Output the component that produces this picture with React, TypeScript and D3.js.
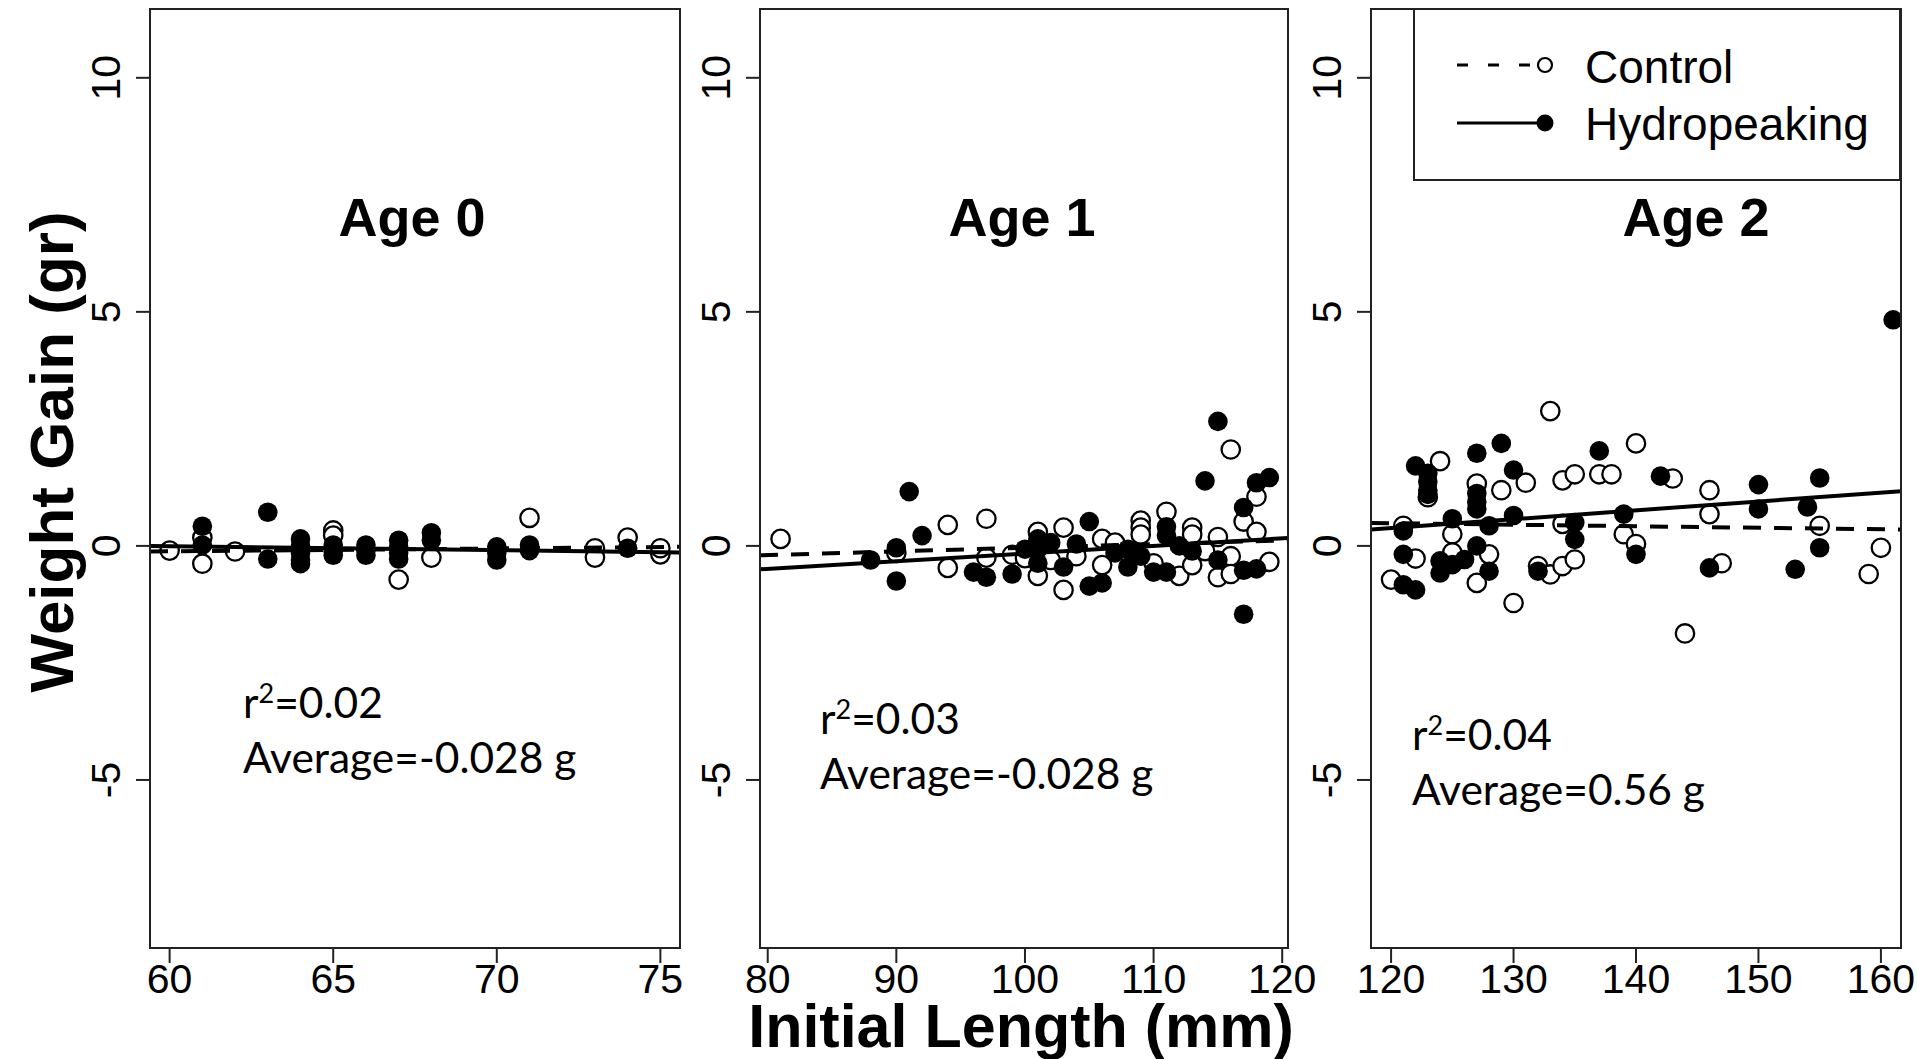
import React from 'react';
import * as d3 from 'd3';

// ---------- data ----------
const panelTitles = ['Age 0', 'Age 1', 'Age 2'];
const r2Labels = ['0.02', '0.03', '0.04'];
const avgLabels = ['-0.028 g', '-0.028 g', '0.56 g'];
const yTicks = [-5, 0, 5, 10];
const age0Ticks = [60, 65, 70, 75];
const age1Ticks = [80, 90, 100, 110, 120];
const age2Ticks = [120, 130, 140, 150, 160];
const legendLabels = ['Control', 'Hydropeaking'];

type P = [number, number];

const age0Control: P[] = [
  [60, -0.1], [61, 0.18], [61, -0.38], [62, -0.12], [65, 0.33], [65, 0.22], [67, -0.72],
  [68, -0.25], [71, 0.6], [73, -0.05], [73, -0.25], [74, 0.18], [75, -0.18], [75, -0.05],
];
const age0Hydro: P[] = [
  [61, 0.42], [61, 0.02], [63, 0.72], [63, -0.28], [64, 0.15], [64, 0.0], [64, -0.15], [64, -0.3],
  [64, -0.38], [65, 0.02], [65, -0.12], [65, -0.2], [66, 0.02], [66, -0.1], [66, -0.2], [67, 0.12],
  [67, -0.02], [67, -0.15], [67, -0.28], [68, 0.28], [68, 0.12], [70, -0.02], [70, -0.15], [70, -0.3],
  [71, 0.02], [71, -0.1], [74, -0.05],
];
const age1Control: P[] = [
  [81, 0.15], [90, -0.15], [94, 0.45], [94, -0.47], [97, 0.58], [97, -0.25], [99, -0.19], [100, -0.26],
  [101, 0.3], [101, -0.64], [102, -0.3], [103, 0.39], [103, -0.94], [104, -0.22], [106, 0.15],
  [106, -0.41], [107, 0.07], [109, 0.54], [109, 0.39], [109, 0.24], [110, -0.37], [111, 0.73],
  [112, -0.64], [113, 0.39], [113, 0.24], [113, -0.41], [114, -0.11], [115, 0.19], [115, -0.67],
  [116, 2.06], [116, -0.22], [116, -0.6], [117, 0.52], [118, 1.05], [118, 0.3], [119, -0.34],
];
const age1Hydro: P[] = [
  [88, -0.3], [90, -0.04], [90, -0.75], [91, 1.16], [92, 0.22], [96, -0.56], [97, -0.67], [99, -0.6],
  [100, -0.07], [101, 0.15], [101, -0.07], [101, -0.37], [102, 0.07], [103, -0.45], [104, 0.04],
  [105, 0.52], [105, -0.86], [106, -0.79], [107, -0.15], [108, -0.07], [108, -0.45], [109, -0.22],
  [110, -0.56], [111, 0.41], [111, 0.22], [111, -0.56], [112, 0.0], [113, -0.11], [114, 1.39],
  [115, 2.66], [115, -0.3], [117, 0.82], [117, -0.52], [117, -1.46], [118, 1.35], [118, -0.49],
  [119, 1.46],
];
const age2Control: P[] = [
  [120, -0.72], [121, 0.43], [122, -0.27], [123, 1.04], [124, 1.81], [125, 0.25], [125, -0.14],
  [127, 1.33], [127, -0.79], [128, -0.18], [129, 1.19], [130, -1.22], [131, 1.35], [132, -0.43],
  [133, 2.88], [133, -0.61], [134, 1.4], [134, 0.47], [134, -0.43], [135, 1.53], [135, -0.29],
  [137, 1.53], [138, 1.53], [139, 0.25], [140, 2.19], [140, 0.04], [143, 1.44], [144, -1.87],
  [146, 1.19], [146, 0.68], [147, -0.37], [155, 0.43], [159, -0.6], [160, -0.04],
];
const age2Hydro: P[] = [
  [121, 0.32], [121, -0.18], [121, -0.83], [122, 1.71], [122, -0.94], [123, 1.55], [123, 1.37],
  [123, 1.19], [123, 1.1], [124, -0.32], [124, -0.58], [125, 0.58], [125, -0.4], [126, -0.29],
  [127, 1.98], [127, 1.12], [127, 0.94], [127, 0.79], [127, 0.0], [128, 0.43], [128, -0.54],
  [129, 2.19], [130, 1.62], [130, 0.65], [132, -0.54], [135, 0.5], [135, 0.14], [137, 2.03],
  [139, 0.68], [140, -0.18], [142, 1.49], [146, -0.47], [150, 1.31], [150, 0.79], [153, -0.5],
  [154, 0.83], [155, 1.45], [155, -0.04], [161, 4.83],
];

// fitted regression lines (values at the plot limits)
const age0ControlFit: P[] = [[59.4, -0.12], [75.6, -0.02]];
const age0HydroFit: P[] = [[59.4, 0.0], [75.6, -0.14]];
const age1ControlFit: P[] = [[79.4, -0.2], [120.45, 0.12]];
const age1HydroFit: P[] = [[79.4, -0.5], [120.45, 0.17]];
const age2ControlFit: P[] = [[118.36, 0.49], [161.64, 0.35]];
const age2HydroFit: P[] = [[118.36, 0.35], [161.64, 1.17]];

const SANS = "'Liberation Sans', Arial, sans-serif";
const NOTE = "Lato, 'Liberation Sans', sans-serif";

export default function App() {
  const W = 1917;
  const H = 1059;
  const top = 9;
  const bottom = 948;
  const y = d3.scaleLinear().domain([-8.59, 11.47]).range([bottom, top]);

  const panels = [
    { left: 150, right: 680, domain: [59.4, 75.6], ticks: age0Ticks, control: age0Control, hydro: age0Hydro,
      cFit: age0ControlFit, hFit: age0HydroFit, titleX: 412, noteX: 243, noteY: 718 },
    { left: 760, right: 1288, domain: [79.4, 120.45], ticks: age1Ticks, control: age1Control, hydro: age1Hydro,
      cFit: age1ControlFit, hFit: age1HydroFit, titleX: 1022, noteX: 820, noteY: 734 },
    { left: 1371, right: 1901, domain: [118.36, 161.64], ticks: age2Ticks, control: age2Control, hydro: age2Hydro,
      cFit: age2ControlFit, hFit: age2HydroFit, titleX: 1696, noteX: 1412, noteY: 750 },
  ];

  const R = 9.2;
  const axisColor = '#222';

  return (
    <svg width={W} height={H} style={{ position: 'absolute', left: 0, top: 0, display: 'block', background: '#fff' }}>
      <rect x={0} y={0} width={W} height={H} fill="#fff" />
      <defs>
        {panels.map((p, i) => (
          <clipPath id={`clip${i}`} key={i}>
            <rect x={p.left} y={top} width={p.right - p.left} height={bottom - top} />
          </clipPath>
        ))}
      </defs>
      {panels.map((p, i) => {
        const x = d3.scaleLinear().domain(p.domain).range([p.left, p.right]);
        const line = d3.line<P>().x((d) => x(d[0])).y((d) => y(d[1]));
        return (
          <g key={i}>
            {/* y axis */}
            {yTicks.map((t) => (
              <g key={`y${t}`}>
                <line x1={p.left - 14} x2={p.left} y1={y(t)} y2={y(t)} stroke={axisColor} strokeWidth={2} />
                <text
                  transform={`translate(${p.left - 30},${y(t)}) rotate(-90)`}
                  textAnchor="middle"
                  fontFamily={SANS}
                  fontSize={41}
                  fill="#000"
                >
                  {t}
                </text>
              </g>
            ))}
            {/* x axis */}
            {p.ticks.map((t) => (
              <g key={`x${t}`}>
                <line x1={x(t)} x2={x(t)} y1={bottom} y2={bottom + 15} stroke={axisColor} strokeWidth={2} />
                <text x={x(t)} y={993} textAnchor="middle" fontFamily={SANS} fontSize={41} fill="#000">
                  {t}
                </text>
              </g>
            ))}
            {/* points */}
            <g clipPath={`url(#clip${i})`}>
              {p.control.map((d, k) => (
                <circle key={`c${k}`} cx={x(d[0])} cy={y(d[1])} r={R} fill="#fff" stroke="#000" strokeWidth={2.3} />
              ))}
              {p.hydro.map((d, k) => (
                <circle key={`h${k}`} cx={x(d[0])} cy={y(d[1])} r={R + 0.6} fill="#000" />
              ))}
              <path d={line(p.cFit) || ''} fill="none" stroke="#000" strokeWidth={4} strokeDasharray="18 13" />
              <path d={line(p.hFit) || ''} fill="none" stroke="#000" strokeWidth={4} />
            </g>
            {/* box */}
            <rect x={p.left} y={top} width={p.right - p.left} height={bottom - top} fill="none" stroke={axisColor} strokeWidth={2} />
            {/* title */}
            <text x={p.titleX} y={236} textAnchor="middle" fontFamily={SANS} fontWeight="bold" fontSize={54} fill="#000">
              {panelTitles[i]}
            </text>
            {/* notes */}
            <text x={p.noteX} y={p.noteY} fontFamily={NOTE} fontSize={42.5} fill="#000">
              r<tspan fontSize={27} dy={-15}>2</tspan>
              <tspan dy={15}>={r2Labels[i]}</tspan>
            </text>
            <text x={p.noteX} y={p.noteY + 55} fontFamily={NOTE} fontSize={42.5} fill="#000">
              Average={avgLabels[i]}
            </text>
          </g>
        );
      })}

      {/* axis titles */}
      <text
        transform={`translate(73,452) rotate(-90)`}
        textAnchor="middle"
        fontFamily={SANS}
        fontWeight="bold"
        fontSize={62}
        fill="#000"
      >
        Weight Gain (gr)
      </text>
      <text x={1021} y={1047} textAnchor="middle" fontFamily={SANS} fontWeight="bold" fontSize={61} fill="#000">
        Initial Length (mm)
      </text>

      {/* legend */}
      <g>
        <rect x={1414} y={9} width={486} height={171} fill="#fff" stroke={axisColor} strokeWidth={2} />
        <line x1={1457} x2={1545} y1={65} y2={65} stroke="#000" strokeWidth={3} strokeDasharray="11 20" />
        <circle cx={1545} cy={65} r={7} fill="#fff" stroke="#000" strokeWidth={2.2} />
        <line x1={1457} x2={1545} y1={123} y2={123} stroke="#000" strokeWidth={3} />
        <circle cx={1545} cy={123} r={8.5} fill="#000" />
        <text x={1585} y={83} fontFamily={SANS} fontSize={46} fill="#000">{legendLabels[0]}</text>
        <text x={1585} y={140} fontFamily={SANS} fontSize={46} fill="#000">{legendLabels[1]}</text>
      </g>
    </svg>
  );
}
